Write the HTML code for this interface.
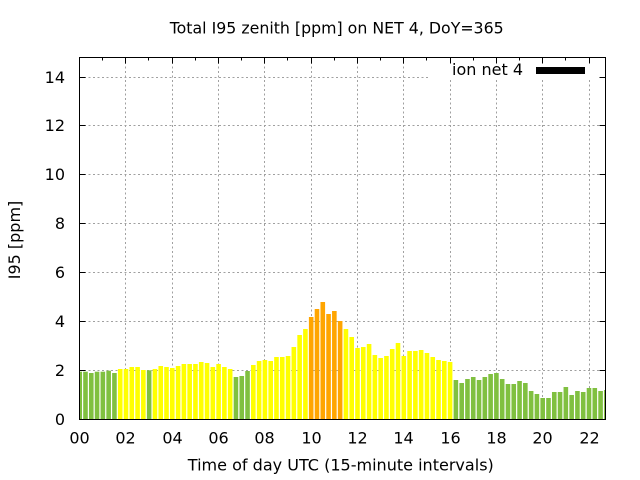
<!DOCTYPE html>
<html><head><meta charset="utf-8"><style>
html,body{margin:0;padding:0;background:#fff;}
svg{display:block;}
text{font-family:"DejaVu Sans","Liberation Sans",sans-serif;font-size:16px;fill:#000;}
</style></head><body>
<svg width="640" height="480" viewBox="0 0 640 480" xmlns="http://www.w3.org/2000/svg">
<rect x="0" y="0" width="640" height="480" fill="#fff"/>
<defs><clipPath id="pa"><rect x="79.5" y="57.5" width="526" height="362"/></clipPath></defs>
<g stroke="#a0a0a0" stroke-width="1" stroke-dasharray="2,2.5" fill="none">
<line x1="79.5" y1="370.5" x2="605.5" y2="370.5"/>
<line x1="79.5" y1="321.5" x2="605.5" y2="321.5"/>
<line x1="79.5" y1="272.5" x2="605.5" y2="272.5"/>
<line x1="79.5" y1="223.5" x2="605.5" y2="223.5"/>
<line x1="79.5" y1="174.5" x2="605.5" y2="174.5"/>
<line x1="79.5" y1="125.5" x2="605.5" y2="125.5"/>
<line x1="79.5" y1="77.5" x2="605.5" y2="77.5"/>
<line x1="125.5" y1="57.5" x2="125.5" y2="419.5"/>
<line x1="172.5" y1="57.5" x2="172.5" y2="419.5"/>
<line x1="218.5" y1="57.5" x2="218.5" y2="419.5"/>
<line x1="264.5" y1="57.5" x2="264.5" y2="419.5"/>
<line x1="311.5" y1="57.5" x2="311.5" y2="419.5"/>
<line x1="357.5" y1="57.5" x2="357.5" y2="419.5"/>
<line x1="403.5" y1="57.5" x2="403.5" y2="419.5"/>
<line x1="450.5" y1="57.5" x2="450.5" y2="419.5"/>
<line x1="496.5" y1="57.5" x2="496.5" y2="419.5"/>
<line x1="542.5" y1="57.5" x2="542.5" y2="419.5"/>
<line x1="589.5" y1="57.5" x2="589.5" y2="419.5"/>
</g>
<g clip-path="url(#pa)">
<g fill="#80c040">
<rect x="77.40" y="371.7" width="4.6" height="47.8"/>
<rect x="83.19" y="371.7" width="4.6" height="47.8"/>
<rect x="88.98" y="373" width="4.6" height="46.5"/>
<rect x="94.76" y="371.7" width="4.6" height="47.8"/>
<rect x="100.55" y="371.7" width="4.6" height="47.8"/>
<rect x="106.34" y="370.7" width="4.6" height="48.8"/>
<rect x="112.13" y="373" width="4.6" height="46.5"/>
<rect x="146.85" y="370.3" width="4.6" height="49.2"/>
<rect x="233.66" y="377" width="4.6" height="42.5"/>
<rect x="239.45" y="376" width="4.6" height="43.5"/>
<rect x="245.24" y="371" width="4.6" height="48.5"/>
<rect x="453.59" y="380" width="4.6" height="39.5"/>
<rect x="459.38" y="383" width="4.6" height="36.5"/>
<rect x="465.16" y="379" width="4.6" height="40.5"/>
<rect x="470.95" y="377" width="4.6" height="42.5"/>
<rect x="476.74" y="380" width="4.6" height="39.5"/>
<rect x="482.53" y="377" width="4.6" height="42.5"/>
<rect x="488.31" y="374" width="4.6" height="45.5"/>
<rect x="494.10" y="373" width="4.6" height="46.5"/>
<rect x="499.89" y="379" width="4.6" height="40.5"/>
<rect x="505.68" y="384" width="4.6" height="35.5"/>
<rect x="511.46" y="384" width="4.6" height="35.5"/>
<rect x="517.25" y="381" width="4.6" height="38.5"/>
<rect x="523.04" y="383" width="4.6" height="36.5"/>
<rect x="528.83" y="391" width="4.6" height="28.5"/>
<rect x="534.61" y="394" width="4.6" height="25.5"/>
<rect x="540.40" y="398" width="4.6" height="21.5"/>
<rect x="546.19" y="398" width="4.6" height="21.5"/>
<rect x="551.98" y="392" width="4.6" height="27.5"/>
<rect x="557.76" y="392" width="4.6" height="27.5"/>
<rect x="563.55" y="387" width="4.6" height="32.5"/>
<rect x="569.34" y="395" width="4.6" height="24.5"/>
<rect x="575.13" y="391" width="4.6" height="28.5"/>
<rect x="580.91" y="392" width="4.6" height="27.5"/>
<rect x="586.70" y="388" width="4.6" height="31.5"/>
<rect x="592.49" y="388" width="4.6" height="31.5"/>
<rect x="598.28" y="391" width="4.6" height="28.5"/>
<rect x="604.06" y="390" width="4.6" height="29.5"/>
</g>
<g fill="#ffff00">
<rect x="117.91" y="369" width="4.6" height="50.5"/>
<rect x="123.70" y="369" width="4.6" height="50.5"/>
<rect x="129.49" y="367" width="4.6" height="52.5"/>
<rect x="135.28" y="367" width="4.6" height="52.5"/>
<rect x="141.06" y="370" width="4.6" height="49.5"/>
<rect x="152.64" y="369" width="4.6" height="50.5"/>
<rect x="158.43" y="366" width="4.6" height="53.5"/>
<rect x="164.21" y="367" width="4.6" height="52.5"/>
<rect x="170.00" y="368" width="4.6" height="51.5"/>
<rect x="175.79" y="366" width="4.6" height="53.5"/>
<rect x="181.58" y="364" width="4.6" height="55.5"/>
<rect x="187.36" y="364" width="4.6" height="55.5"/>
<rect x="193.15" y="364" width="4.6" height="55.5"/>
<rect x="198.94" y="362" width="4.6" height="57.5"/>
<rect x="204.73" y="363" width="4.6" height="56.5"/>
<rect x="210.51" y="367" width="4.6" height="52.5"/>
<rect x="216.30" y="364" width="4.6" height="55.5"/>
<rect x="222.09" y="367" width="4.6" height="52.5"/>
<rect x="227.88" y="369" width="4.6" height="50.5"/>
<rect x="251.03" y="365" width="4.6" height="54.5"/>
<rect x="256.81" y="361" width="4.6" height="58.5"/>
<rect x="262.60" y="360" width="4.6" height="59.5"/>
<rect x="268.39" y="361" width="4.6" height="58.5"/>
<rect x="274.18" y="357" width="4.6" height="62.5"/>
<rect x="279.96" y="357" width="4.6" height="62.5"/>
<rect x="285.75" y="356" width="4.6" height="63.5"/>
<rect x="291.54" y="347" width="4.6" height="72.5"/>
<rect x="297.33" y="335" width="4.6" height="84.5"/>
<rect x="303.11" y="329" width="4.6" height="90.5"/>
<rect x="343.63" y="329" width="4.6" height="90.5"/>
<rect x="349.41" y="337" width="4.6" height="82.5"/>
<rect x="355.20" y="348" width="4.6" height="71.5"/>
<rect x="360.99" y="347" width="4.6" height="72.5"/>
<rect x="366.78" y="344" width="4.6" height="75.5"/>
<rect x="372.56" y="355" width="4.6" height="64.5"/>
<rect x="378.35" y="358" width="4.6" height="61.5"/>
<rect x="384.14" y="356" width="4.6" height="63.5"/>
<rect x="389.93" y="349" width="4.6" height="70.5"/>
<rect x="395.71" y="343" width="4.6" height="76.5"/>
<rect x="401.50" y="356" width="4.6" height="63.5"/>
<rect x="407.29" y="351" width="4.6" height="68.5"/>
<rect x="413.08" y="351" width="4.6" height="68.5"/>
<rect x="418.86" y="350" width="4.6" height="69.5"/>
<rect x="424.65" y="353" width="4.6" height="66.5"/>
<rect x="430.44" y="357" width="4.6" height="62.5"/>
<rect x="436.23" y="360" width="4.6" height="59.5"/>
<rect x="442.01" y="361" width="4.6" height="58.5"/>
<rect x="447.80" y="362" width="4.6" height="57.5"/>
</g>
<g fill="#ffa500">
<rect x="308.90" y="317" width="4.6" height="102.5"/>
<rect x="314.69" y="309" width="4.6" height="110.5"/>
<rect x="320.48" y="302" width="4.6" height="117.5"/>
<rect x="326.26" y="314" width="4.6" height="105.5"/>
<rect x="332.05" y="311" width="4.6" height="108.5"/>
<rect x="337.84" y="321" width="4.6" height="98.5"/>
</g>
</g>
<rect x="428" y="58" width="172" height="22" fill="#fff"/>
<text x="523" y="75" text-anchor="end">ion net 4</text>
<rect x="536" y="67" width="49" height="7" fill="#000"/>
<g stroke="#000" stroke-width="1">
<path d="M79.5 370.5h6M79.5 321.5h6M79.5 272.5h6M79.5 223.5h6M79.5 174.5h6M79.5 125.5h6M79.5 77.5h6"/>
<path d="M605.5 370.5h-6M605.5 321.5h-6M605.5 272.5h-6M605.5 223.5h-6M605.5 174.5h-6M605.5 125.5h-6M605.5 77.5h-6"/>
<path d="M125.5 57.5v6M172.5 57.5v6M218.5 57.5v6M264.5 57.5v6M311.5 57.5v6M357.5 57.5v6M403.5 57.5v6M450.5 57.5v6M496.5 57.5v6M542.5 57.5v6M589.5 57.5v6"/>
<path d="M102.5 57.5v3M148.5 57.5v3M195.5 57.5v3M241.5 57.5v3M287.5 57.5v3M334.5 57.5v3M380.5 57.5v3M426.5 57.5v3M473.5 57.5v3M519.5 57.5v3M565.5 57.5v3"/>
</g>
<rect x="79.5" y="57.5" width="526" height="362" fill="none" stroke="#000" stroke-width="1"/>
<g text-anchor="end">
<text x="65" y="424.8">0</text>
<text x="65" y="375.8">2</text>
<text x="65" y="326.8">4</text>
<text x="65" y="277.8">6</text>
<text x="65" y="228.8">8</text>
<text x="65" y="179.8">10</text>
<text x="65" y="130.8">12</text>
<text x="65" y="82.8">14</text>
</g>
<g text-anchor="middle">
<text x="79.5" y="443.5">00</text>
<text x="125.5" y="443.5">02</text>
<text x="172.5" y="443.5">04</text>
<text x="218.5" y="443.5">06</text>
<text x="264.5" y="443.5">08</text>
<text x="311.5" y="443.5">10</text>
<text x="357.5" y="443.5">12</text>
<text x="403.5" y="443.5">14</text>
<text x="450.5" y="443.5">16</text>
<text x="496.5" y="443.5">18</text>
<text x="542.5" y="443.5">20</text>
<text x="589.5" y="443.5">22</text>
</g>
<text x="336.7" y="33.3" text-anchor="middle" textLength="334" lengthAdjust="spacingAndGlyphs">Total I95 zenith [ppm] on NET 4, DoY=365</text>
<text x="340.8" y="470.7" text-anchor="middle" textLength="306" lengthAdjust="spacingAndGlyphs">Time of day UTC (15-minute intervals)</text>
<text transform="translate(20,240) rotate(-90)" text-anchor="middle">I95 [ppm]</text>
</svg>
</body></html>
